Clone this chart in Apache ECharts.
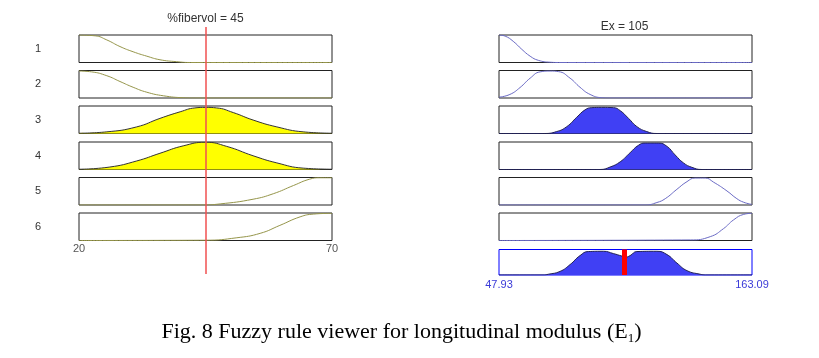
<!DOCTYPE html>
<html>
<head>
<meta charset="utf-8">
<script src="https://cdn.jsdelivr.net/npm/echarts@6/dist/echarts.min.js"></script>
<style>html,body{margin:0;padding:0;background:#fff;}#c{width:819px;height:358px;}</style>
</head>
<body>
<div id="c"></div>
<script>
// ---- data ----
const inputName = '%fibervol';
const outputName = 'Ex';
const inputValue = 45;
const outputValue = 105;
const ruleLabels = ['1', '2', '3', '4', '5', '6'];
const inputRange = [20, 70];
const outputRange = [47.93, 163.09];
const inputTicks = [20, 70];
const outputTicks = [47.93, 163.09];
const firedRules = [3, 4];

const in1 = [[20,1],[23.2,0.97],[25.5,0.82],[28.1,0.58],[30.7,0.39],[33.4,0.23],[36,0.1],[39.3,0.03],[42,0],[70,0]];
const in2 = [[20,0.98],[22.5,0.95],[25.5,0.81],[28.1,0.6],[30.7,0.39],[33.4,0.21],[36.7,0.08],[40.6,0.01],[43,0],[70,0]];
const in3 = [[20,0.01],[25.5,0.06],[31.4,0.24],[36,0.55],[40,0.79],[42.9,0.93],[45,0.95],[47.2,0.93],[50.5,0.76],[54.4,0.49],[59.1,0.24],[64.3,0.06],[70,0.01]];
const in4 = [[20,0.01],[26.1,0.09],[31.4,0.31],[36,0.59],[40.6,0.86],[45,0.99],[49.2,0.84],[54.4,0.5],[59.1,0.24],[64.3,0.05],[70,0.01]];
const in5 = [[20,0],[44,0],[47.9,0.04],[54.4,0.21],[58.4,0.41],[62.4,0.71],[65.6,0.94],[67.6,0.99],[70,0.99]];
const in6 = [[20,0],[45,0.01],[51.2,0.1],[55.8,0.26],[59.7,0.55],[63.7,0.86],[66.3,0.96],[70,0.99]];

const out1 = [[47.93,1],[50.7,0.96],[54.4,0.77],[58.3,0.48],[62.1,0.23],[65.8,0.08],[71.2,0.01],[75,0],[163.09,0]];
const out2 = [[47.93,0.03],[52.9,0.13],[57.5,0.38],[62.1,0.72],[66.6,0.95],[71.2,0.98],[75,0.96],[80.3,0.72],[84.8,0.39],[89.4,0.13],[94.7,0.01],[98,0],[163.09,0]];
const out3 = [[47.93,0],[68.1,0],[74.2,0.07],[78.8,0.25],[83.3,0.59],[87.1,0.86],[90.2,0.94],[94.7,0.95],[100,0.94],[103.1,0.83],[106.9,0.55],[110.7,0.25],[115.2,0.07],[119.8,0],[163.09,0]];
const out4 = [[47.93,0],[93.9,0],[98.5,0.09],[103.1,0.28],[107.6,0.61],[111.4,0.88],[114.5,0.96],[120.5,0.96],[124.4,0.84],[128.1,0.53],[131.9,0.24],[135.7,0.08],[140.3,0],[163.09,0]];
const out5 = [[47.93,0],[114.5,0],[119.8,0.09],[123.6,0.23],[128.9,0.57],[133.5,0.85],[137.2,0.98],[141.8,0.98],[145.6,0.83],[151.7,0.51],[156.2,0.23],[159.3,0.1],[163.09,0.02]];
const out6 = [[47.93,0],[135,0.02],[144.1,0.14],[150.1,0.43],[154.7,0.75],[159.3,0.95],[163.09,0.99]];
const aggregate = [[47.93,0],[68,0],[70.4,0.03],[75.7,0.14],[80.3,0.41],[84.8,0.76],[88.6,0.92],[95.5,0.93],[100,0.84],[103.9,0.74],[105.5,0.7],[107.6,0.76],[110.7,0.92],[119.8,0.93],[124.4,0.8],[128.9,0.47],[133.5,0.17],[139.5,0.03],[142,0],[163.09,0]];

const inputMFs = [in1, in2, in3, in4, in5, in6];
const outputMFs = [out1, out2, out3, out4, out5, out6];

// ---- layout / style ----
const SANS = 'Liberation Sans';
const rowTops = [35, 70.5, 106, 142, 177.5, 213];
const rowH = 27.5;
const leftX = 79, rightX = 499, panelW = 253;
const SMOOTH = 0.5;

const grid = [], xAxis = [], yAxis = [], series = [];

function hiddenY(idx, name) {
  return {
    gridIndex: idx, type: 'value', min: 0, max: 1, show: true,
    axisLine: {show: false}, axisTick: {show: false}, axisLabel: {show: false}, splitLine: {show: false},
    name: name || '', nameLocation: 'middle', nameRotate: 0, nameGap: 38,
    nameTextStyle: {fontSize: 11, color: '#333', fontFamily: SANS}
  };
}
function xAx(idx, range, ticks, labelColor, margin) {
  return {
    gridIndex: idx, type: 'value', min: range[0], max: range[1], show: true,
    axisLine: {show: false}, axisTick: {show: false}, splitLine: {show: false},
    axisLabel: ticks ? {show: true, customValues: ticks, showMinLabel: true, showMaxLabel: true,
      color: labelColor, fontSize: 11, fontFamily: SANS, margin: margin, formatter: v => String(v)} : {show: false}
  };
}

let gi = 0;
// left: input MFs
for (let r = 0; r < 6; r++) {
  grid.push({left: leftX, top: rowTops[r], width: panelW, height: rowH, show: true,
    borderColor: '#222', borderWidth: 1, backgroundColor: '#fff'});
  xAxis.push(xAx(gi, inputRange, r === 5 ? inputTicks : null, '#555', 3));
  yAxis.push(hiddenY(gi, ruleLabels[r]));
  const fired = firedRules.indexOf(r + 1) >= 0;
  series.push({type: 'line', xAxisIndex: gi, yAxisIndex: gi, data: inputMFs[r],
    smooth: SMOOTH, showSymbol: false, silent: true, z: 3,
    lineStyle: {color: fired ? '#333' : '#95954a', width: 1},
    areaStyle: fired ? {color: '#ffff00', opacity: 1} : undefined});
  gi++;
}
// right: output MFs
for (let r = 0; r < 6; r++) {
  grid.push({left: rightX, top: rowTops[r], width: panelW, height: rowH, show: true,
    borderColor: '#222', borderWidth: 1, backgroundColor: '#fff'});
  xAxis.push(xAx(gi, outputRange, null));
  yAxis.push(hiddenY(gi, ''));
  const fired = firedRules.indexOf(r + 1) >= 0;
  series.push({type: 'line', xAxisIndex: gi, yAxisIndex: gi, data: outputMFs[r],
    smooth: SMOOTH, showSymbol: false, silent: true, z: 3,
    lineStyle: {color: fired ? '#222255' : '#6a6ac4', width: 1},
    areaStyle: fired ? {color: '#4040f4', opacity: 1} : undefined});
  gi++;
}
// aggregate
grid.push({left: rightX, top: 249.5, width: panelW, height: 25.5, show: true,
  borderColor: '#0000ff', borderWidth: 1, backgroundColor: '#fff'});
xAxis.push(xAx(gi, outputRange, outputTicks, '#3a3ad8', 4));
yAxis.push(hiddenY(gi, ''));
series.push({type: 'line', xAxisIndex: gi, yAxisIndex: gi, data: aggregate,
  smooth: SMOOTH, showSymbol: false, silent: true, z: 3,
  lineStyle: {color: '#222255', width: 1},
  areaStyle: {color: '#4040f4', opacity: 1},
  markLine: {silent: true, symbol: ['none', 'none'], label: {show: false}, animation: false,
    lineStyle: {color: '#ff0000', width: 5, type: 'solid'}, data: [{xAxis: outputValue}]}});
gi++;
// overlay for input value line spanning all input rows
grid.push({left: leftX, top: 27, width: panelW, height: 247, show: false});
xAxis.push({gridIndex: gi, type: 'value', min: inputRange[0], max: inputRange[1], show: false});
yAxis.push({gridIndex: gi, type: 'value', min: 0, max: 1, show: false});
series.push({type: 'line', xAxisIndex: gi, yAxisIndex: gi, data: [[inputValue, 0]], showSymbol: false,
  silent: true, z: 10, lineStyle: {width: 0},
  markLine: {silent: true, symbol: ['none', 'none'], label: {show: false}, animation: false,
    lineStyle: {color: '#f05050', width: 1.5, type: 'solid'}, data: [{xAxis: inputValue}]}});

const option = {
  animation: false,
  backgroundColor: '#fff',
  title: [
    {text: inputName + ' = ' + inputValue, left: 205.5, top: 13, textAlign: 'center', padding: 0,
      textStyle: {fontSize: 12, fontWeight: 'normal', color: '#333', fontFamily: SANS}},
    {text: outputName + ' = ' + outputValue, left: 624.5, top: 21, textAlign: 'center', padding: 0,
      textStyle: {fontSize: 12, fontWeight: 'normal', color: '#333', fontFamily: SANS}},
    {text: '{a|Fig. 8 Fuzzy rule viewer for longitudinal modulus (E}{s|1}{a|)}', left: 401.5, top: 319,
      textAlign: 'center', padding: 0,
      textStyle: {fontWeight: 'normal', rich: {
        a: {fontSize: 22, fontWeight: 'normal', fontFamily: 'Liberation Serif', color: '#000', lineHeight: 27},
        s: {fontSize: 13, fontWeight: 'normal', fontFamily: 'Liberation Serif', color: '#000', lineHeight: 27, verticalAlign: 'bottom', padding: [0, 0, 1, 0]}
      }}}
  ],
  grid, xAxis, yAxis, series
};

const chart = echarts.init(document.getElementById('c'), null, {renderer: 'canvas'});
chart.setOption(option);
</script>
</body>
</html>
